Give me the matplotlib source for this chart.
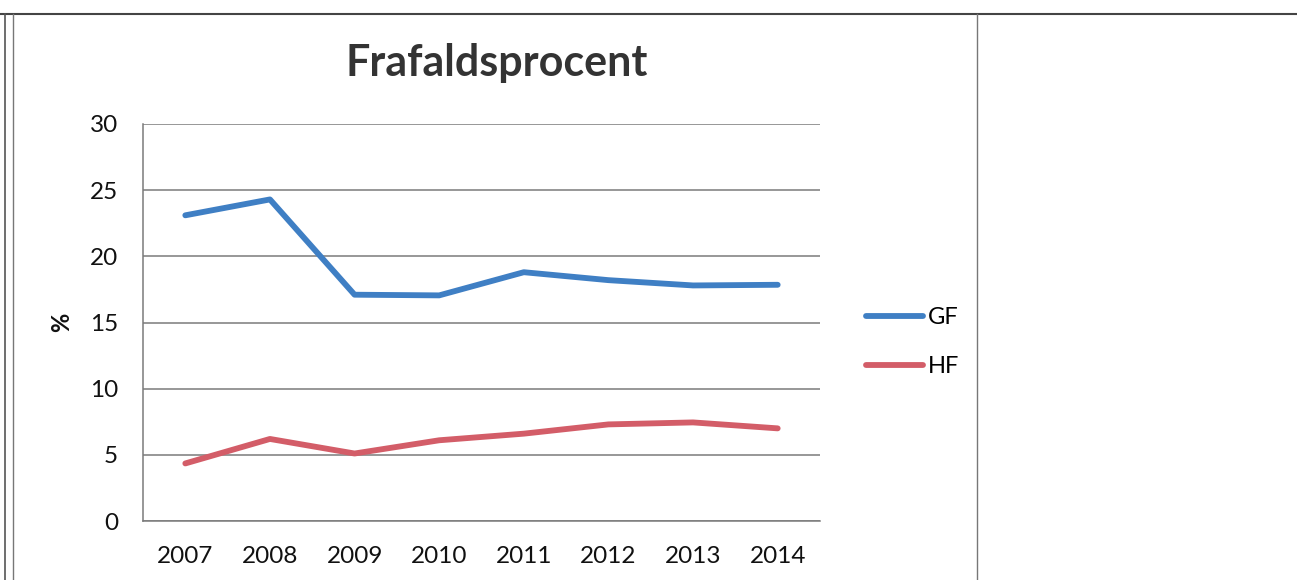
import matplotlib
matplotlib.use("Agg")
import matplotlib.pyplot as plt
from matplotlib.lines import Line2D

years = ["2007", "2008", "2009", "2010", "2011", "2012", "2013", "2014"]
gf = [23.1, 24.3, 17.1, 17.05, 18.8, 18.2, 17.8, 17.85]
hf = [4.35, 6.2, 5.1, 6.1, 6.6, 7.3, 7.45, 7.0]
yticks = [0, 5, 10, 15, 20, 25, 30]

plt.rcParams['font.family'] = ['Lato', 'DejaVu Sans']

W, H = 1297, 580
fig = plt.figure(figsize=(W / 100, H / 100), dpi=100)
fig.patch.set_facecolor('white')

ax = fig.add_axes([143 / W, 1 - 521 / H, 677 / W, 397 / H])
x = list(range(len(years)))
ax.plot(x, gf, color='#3f7fc4', lw=4.2, solid_capstyle='round', label='GF')
ax.plot(x, hf, color='#d35d68', lw=4.2, solid_capstyle='round', label='HF')

ax.set_xlim(-0.5, len(years) - 0.5)
ax.set_ylim(0, 30)
ax.set_yticks(yticks)
ax.set_xticks(x)
ax.set_xticklabels(years)
ax.tick_params(axis='both', length=0, labelsize=17.5, colors='#111111')
ax.tick_params(axis='x', pad=18)
ax.tick_params(axis='y', pad=18)
ax.grid(axis='y', color='#7a7a7a', lw=1.1)
ax.set_axisbelow(True)
for s in ['top', 'right']:
    ax.spines[s].set_visible(False)
for s in ['left', 'bottom']:
    ax.spines[s].set_color('#7a7a7a')
    ax.spines[s].set_linewidth(1.1)
ax.set_ylabel('%', fontsize=17, fontweight='bold', labelpad=12, color='#111111')

fig.text(497 / W, 1 - 63 / H, 'Frafaldsprocent', ha='center', va='center',
         fontsize=31, fontweight='bold', color='#333333')

leg = ax.legend(loc='center left', bbox_to_anchor=(845 / W, 1 - 342 / H),
                bbox_transform=fig.transFigure, frameon=False, fontsize=17,
                handlelength=2.4, handletextpad=0.2, labelspacing=1.2)

# scanned page borders
fig.add_artist(Line2D([0, 1], [1 - 14 / H, 1 - 14 / H], transform=fig.transFigure, color='#444444', lw=1.5))
fig.add_artist(Line2D([5 / W, 5 / W], [0, 1 - 14 / H], transform=fig.transFigure, color='#555555', lw=1.2))
fig.add_artist(Line2D([13 / W, 13 / W], [0, 1 - 14 / H], transform=fig.transFigure, color='#777777', lw=1.0))
fig.add_artist(Line2D([977 / W, 977 / W], [0, 1 - 14 / H], transform=fig.transFigure, color='#777777', lw=1.0))

fig.savefig('out.png', dpi=100, facecolor='white')
